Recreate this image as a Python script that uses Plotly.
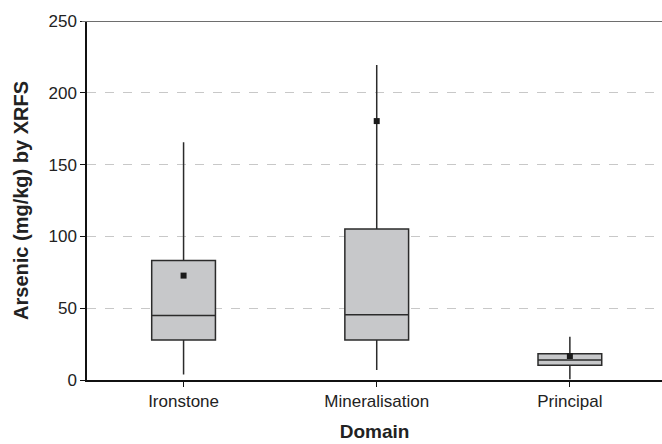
import plotly.graph_objects as go

categories = ["Ironstone", "Mineralisation", "Principal"]
q1 = [27.8, 27.8, 10.2]
median = [44.9, 45.4, 13.9]
q3 = [83.2, 105.1, 18.3]
lower = [3.9, 6.9, 0.5]
upper = [165.5, 219.3, 30.1]
means = [72.7, 180.3, 16.7]
y_ticks = [0, 50, 100, 150, 200, 250]

FONT = "Liberation Sans, Arial, Helvetica, sans-serif"

fig = go.Figure()
fig.add_trace(go.Box(
    x=categories, q1=q1, median=median, q3=q3,
    lowerfence=lower, upperfence=upper,
    fillcolor="#c7c8ca", line=dict(color="#2b2b2b", width=1.5),
    width=0.33, whiskerwidth=0, boxpoints=False, showlegend=False,
))
fig.add_trace(go.Scatter(
    x=categories, y=means, mode="markers",
    marker=dict(symbol="square", size=6, color="#1a1a1a"),
    showlegend=False,
))

fig.add_shape(type="line", xref="paper", yref="y", x0=-0.009, x1=1, y0=250, y1=250,
              line=dict(color="#6e6e6e", width=2), layer="above")

fig.update_layout(
    width=662, height=444,
    margin=dict(l=87, r=0, t=21, b=64),
    plot_bgcolor="white", paper_bgcolor="white",
    font=dict(family=FONT, size=17, color="#222"),
    xaxis=dict(
        type="category", range=[-0.5, 2.477],
        showline=True, linecolor="#111", linewidth=1.5,
        ticks="outside", ticklen=5, tickcolor="#111", tickwidth=1,
        showgrid=False, zeroline=False,
        tickfont=dict(size=17, color="#222"),
        title=dict(text="<b>Domain</b>", font=dict(size=19, color="#222"), standoff=15),
    ),
    yaxis=dict(
        range=[0, 250], tickvals=y_ticks,
        showline=True, linecolor="#111", linewidth=1.5,
        ticks="outside", ticklen=5, tickcolor="#111", tickwidth=1,
        showgrid=True, gridcolor="#c8c8c8", griddash="dash", gridwidth=1,
        zeroline=False,
        tickfont=dict(size=17, color="#222"),
        title=dict(text="<b>Arsenic (mg/kg) by XRFS</b>", font=dict(size=20, color="#222"), standoff=14),
    ),
)

fig.write_html("out.html")
